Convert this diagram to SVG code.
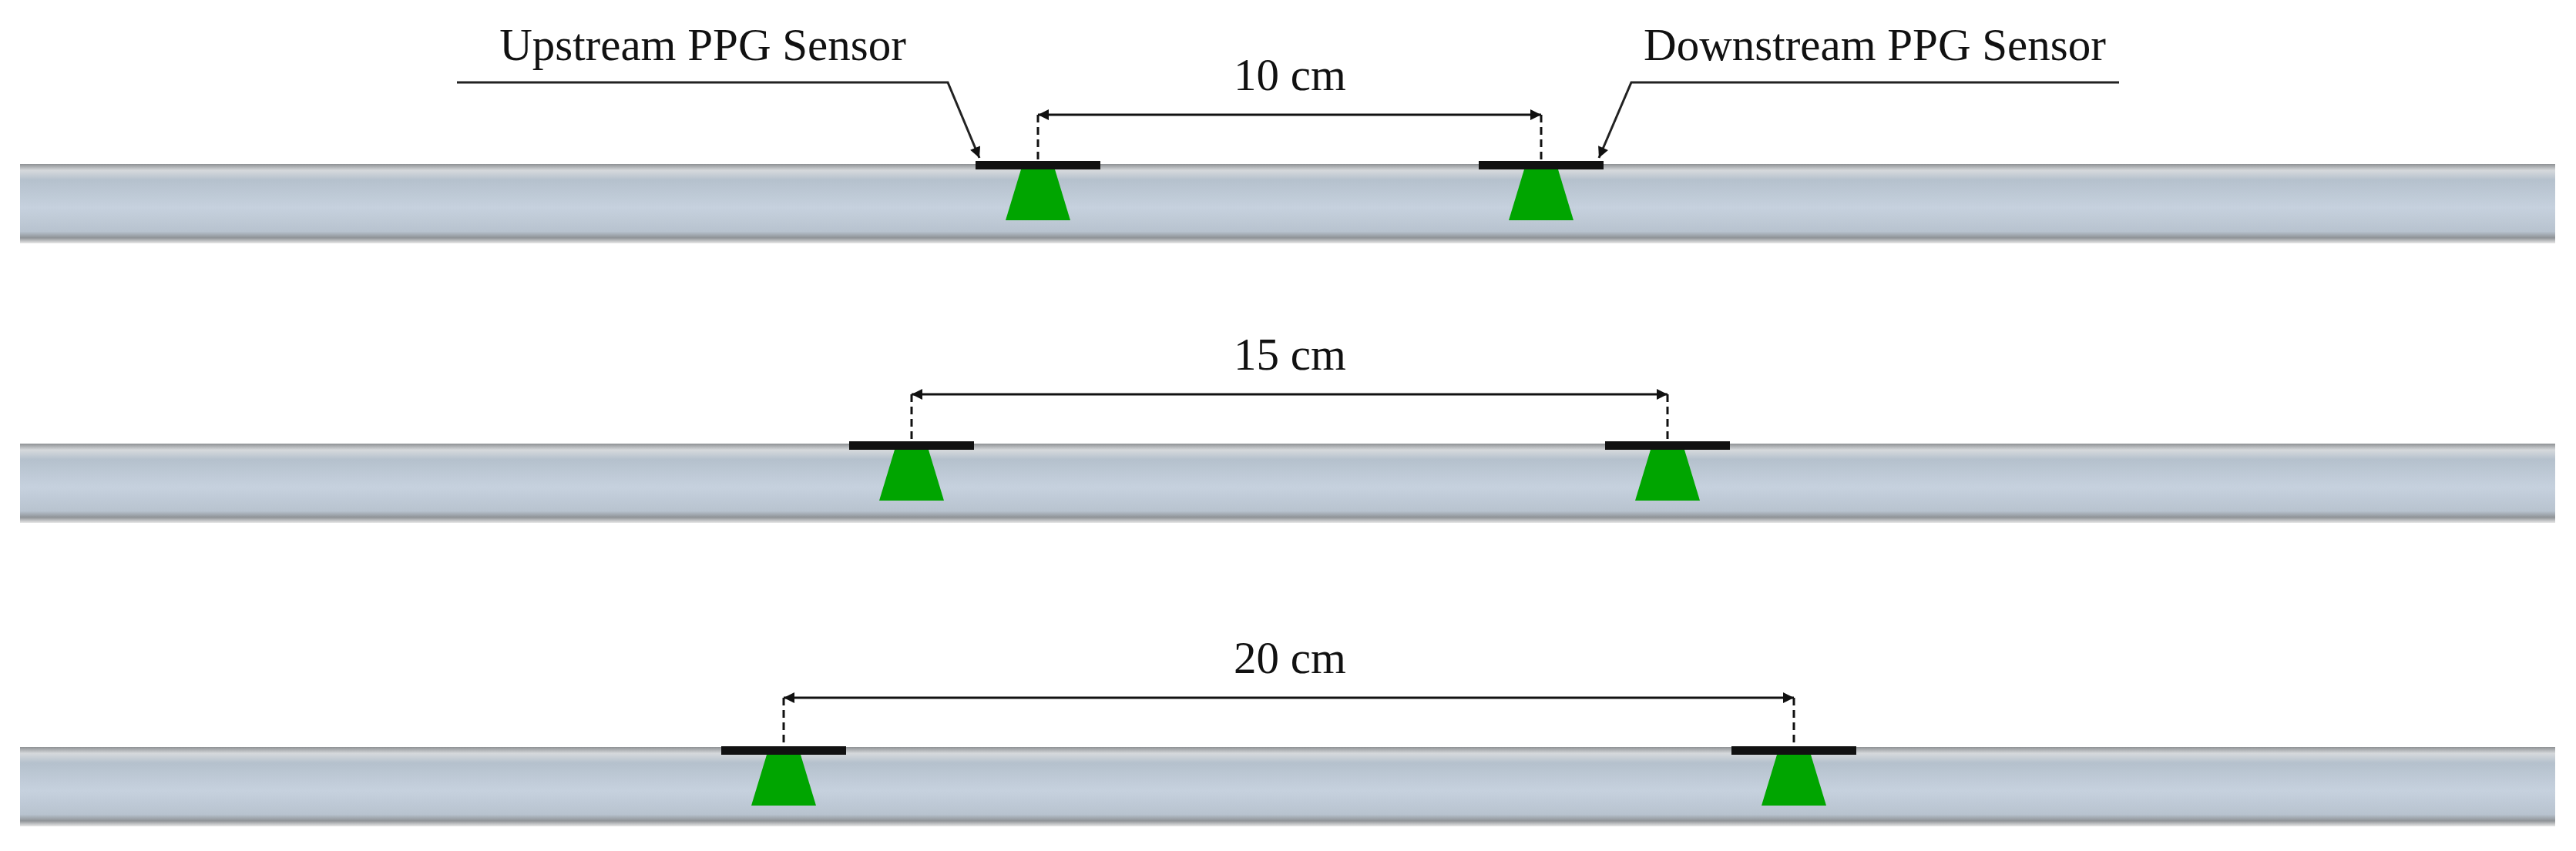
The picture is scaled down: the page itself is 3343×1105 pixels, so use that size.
<svg xmlns="http://www.w3.org/2000/svg" width="3343" height="1105" viewBox="0 0 3343 1105">
<style>
text{font-family:"Liberation Serif","Times New Roman",serif;font-size:59px;fill:#111}
.dim{stroke:#111;stroke-width:3;fill:none}
.dash{stroke:#111;stroke-width:3;stroke-dasharray:10 6;fill:none}
.lead{stroke:#222;stroke-width:3;fill:none}
.bar{fill:#111}
.cone{fill:#00a500}
</style>
<defs>
<linearGradient id="pipe" x1="0" y1="0" x2="0" y2="1">
<stop offset="0" stop-color="#8e9194"/>
<stop offset="0.08" stop-color="#d6d9dc"/>
<stop offset="0.2" stop-color="#b5c1cd"/>
<stop offset="0.55" stop-color="#c6d1de"/>
<stop offset="0.85" stop-color="#b8c3cf"/>
<stop offset="0.93" stop-color="#8f9397"/>
<stop offset="1" stop-color="#e8e8e8"/>
</linearGradient>
<marker id="ah2" viewBox="0 0 10 10" refX="10" refY="5" markerWidth="18" markerHeight="14" orient="auto-start-reverse" markerUnits="userSpaceOnUse">
<path d="M0,0 L10,5 L0,10 z" fill="#111"/>
</marker>
</defs>
<rect width="3343" height="1105" fill="#fff"/>
<g id="pipes">
<rect x="26" y="213" width="3290" height="103" fill="url(#pipe)"/>
<rect x="26" y="576" width="3290" height="103" fill="url(#pipe)"/>
<rect x="26" y="970" width="3290" height="103" fill="url(#pipe)"/>
</g>
<g id="sensor-1a"><rect class="bar" x="1266" y="209" width="162" height="11"/><polygon class="cone" points="1325,220 1369,220 1389,286 1305,286"/></g>
<g id="sensor-1b"><rect class="bar" x="1919" y="209" width="162" height="11"/><polygon class="cone" points="1978,220 2022,220 2042,286 1958,286"/></g>
<g id="sensor-2a"><rect class="bar" x="1102" y="573" width="162" height="11"/><polygon class="cone" points="1161,584 1205,584 1225,650 1141,650"/></g>
<g id="sensor-2b"><rect class="bar" x="2083" y="573" width="162" height="11"/><polygon class="cone" points="2142,584 2186,584 2206,650 2122,650"/></g>
<g id="sensor-3a"><rect class="bar" x="936" y="969" width="162" height="11"/><polygon class="cone" points="995,980 1039,980 1059,1046 975,1046"/></g>
<g id="sensor-3b"><rect class="bar" x="2247" y="969" width="162" height="11"/><polygon class="cone" points="2306,980 2350,980 2370,1046 2286,1046"/></g>
<g id="labels">
<text x="912" y="78" text-anchor="middle">Upstream PPG Sensor</text>
<text x="2433" y="78" text-anchor="middle">Downstream PPG Sensor</text>
<text x="1674" y="117" text-anchor="middle">10 cm</text>
<text x="1674" y="480" text-anchor="middle">15 cm</text>
<text x="1674" y="874" text-anchor="middle">20 cm</text>
</g>
<g id="connectors">
<polyline class="lead" points="593,107 1230,107 1271,205" marker-end="url(#ah2)"/>
<polyline class="lead" points="2750,107 2117,107 2075,205" marker-end="url(#ah2)"/>
<line class="dim" x1="1347" y1="149" x2="2000" y2="149" marker-start="url(#ah2)" marker-end="url(#ah2)"/>
<line class="dash" x1="1347" y1="149" x2="1347" y2="209"/>
<line class="dash" x1="2000" y1="149" x2="2000" y2="209"/>
<line class="dim" x1="1183" y1="512" x2="2164" y2="512" marker-start="url(#ah2)" marker-end="url(#ah2)"/>
<line class="dash" x1="1183" y1="512" x2="1183" y2="573"/>
<line class="dash" x1="2164" y1="512" x2="2164" y2="573"/>
<line class="dim" x1="1017" y1="906" x2="2328" y2="906" marker-start="url(#ah2)" marker-end="url(#ah2)"/>
<line class="dash" x1="1017" y1="906" x2="1017" y2="969"/>
<line class="dash" x1="2328" y1="906" x2="2328" y2="969"/>
</g>
</svg>
